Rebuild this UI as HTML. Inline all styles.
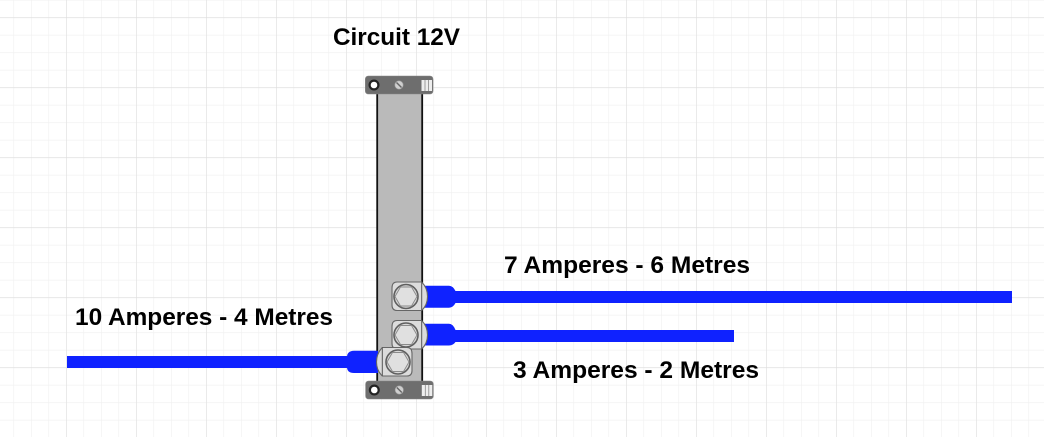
<!DOCTYPE html>
<html><head><meta charset="utf-8"><style>
html,body{margin:0;padding:0;background:#fff;width:1044px;height:437px;overflow:hidden}
svg{display:block}
text{font-family:"Liberation Sans",sans-serif;font-weight:bold;fill:#000;font-size:24.4px}
</style></head><body>
<svg width="1044" height="437" viewBox="0 0 1044 437" xmlns="http://www.w3.org/2000/svg">
<defs>
<pattern id="gm" width="17.5" height="17.5" patternUnits="userSpaceOnUse" x="-4" y="-0.2">
<path d="M0 17.5V0H17.5" fill="none" stroke="#efefef" stroke-width="1.2"/>
</pattern>
<pattern id="gM" width="70" height="70" patternUnits="userSpaceOnUse" x="-4" y="17.3">
<path d="M0 70V0H70" fill="none" stroke="#dedede" stroke-width="1.2"/>
</pattern>
</defs>
<rect width="1044" height="437" fill="#fff"/>
<rect width="1044" height="437" fill="url(#gm)"/>
<rect width="1044" height="437" fill="url(#gM)"/>

<text x="333" y="45" textLength="127" lengthAdjust="spacingAndGlyphs">Circuit 12V</text>
<text x="504" y="273" textLength="246" lengthAdjust="spacingAndGlyphs">7 Amperes - 6 Metres</text>
<text x="75" y="325" textLength="258" lengthAdjust="spacingAndGlyphs">10 Amperes - 4 Metres</text>
<text x="513" y="378" textLength="246" lengthAdjust="spacingAndGlyphs">3 Amperes - 2 Metres</text>

<!-- bus bar -->
<rect x="377.2" y="90" width="45" height="294" fill="#bababa" stroke="#111" stroke-width="1.8"/>

<!-- top clip -->
<g id="clip">
<rect x="365.3" y="76" width="67.7" height="18" rx="3" fill="#6e6e6e" stroke="#888" stroke-width=".6"/>
<circle cx="374" cy="85" r="4.4" fill="#fff" stroke="#222" stroke-width="2.2"/>
<circle cx="399" cy="85" r="4.2" fill="#cfcfcf" stroke="#999" stroke-width=".6"/>
<path d="M396.5 82.5L401.5 87.5" stroke="#666" stroke-width="1.4"/>
<rect x="421.5" y="80" width="10.5" height="11" fill="#eee"/>
<path d="M425 80V91M428.5 80V91" stroke="#888" stroke-width=".8"/>
</g>
<use href="#clip" transform="translate(0.3,305)"/>

<!-- right wires -->
<path d="M455 291H1012V303H455Z" fill="#0f22ff"/>
<path d="M424 285.7H449Q453 285.7 455.5 291V303Q453 307.7 449 307.7H424Z" fill="#0f22ff"/>
<path d="M455 330H734V342H455Z" fill="#0f22ff"/>
<path d="M424 323.7H449Q453 323.7 455.5 330V342Q453 345.5 449 345.5H424Z" fill="#0f22ff"/>
<!-- left wire -->
<path d="M67 356H350V368H67Z" fill="#0f22ff"/>
<path d="M378 350.7H354Q347 351 347 357V367Q347 373 354 373H378Z" fill="#0f22ff"/>

<!-- lug 1 -->
<g id="lug">
<path d="M397 282H421.7Q427.5 288 427.5 296.5Q427.5 305 421.7 310.5H397Q392 310.5 392 305V288Q392 282 397 282Z" fill="#dcdcdc" stroke="#666" stroke-width="1.1"/>
<path d="M421.7 282V310.5" stroke="#555" stroke-width="1"/>
<circle cx="406" cy="296.5" r="12" fill="#d8d8d8" stroke="#5f5f5f" stroke-width="1.6"/>
<polygon points="417,296.5 411.5,287 400.5,287 395,296.5 400.5,306 411.5,306" fill="#e0e0e0" stroke="#8a8a8a" stroke-width=".9"/>
</g>
<use href="#lug" transform="translate(0,38.5)"/>
<!-- lug 3 (mirrored) -->
<use href="#lug" transform="translate(804,65.5) scale(-1,1)"/>
</svg>
</body></html>
